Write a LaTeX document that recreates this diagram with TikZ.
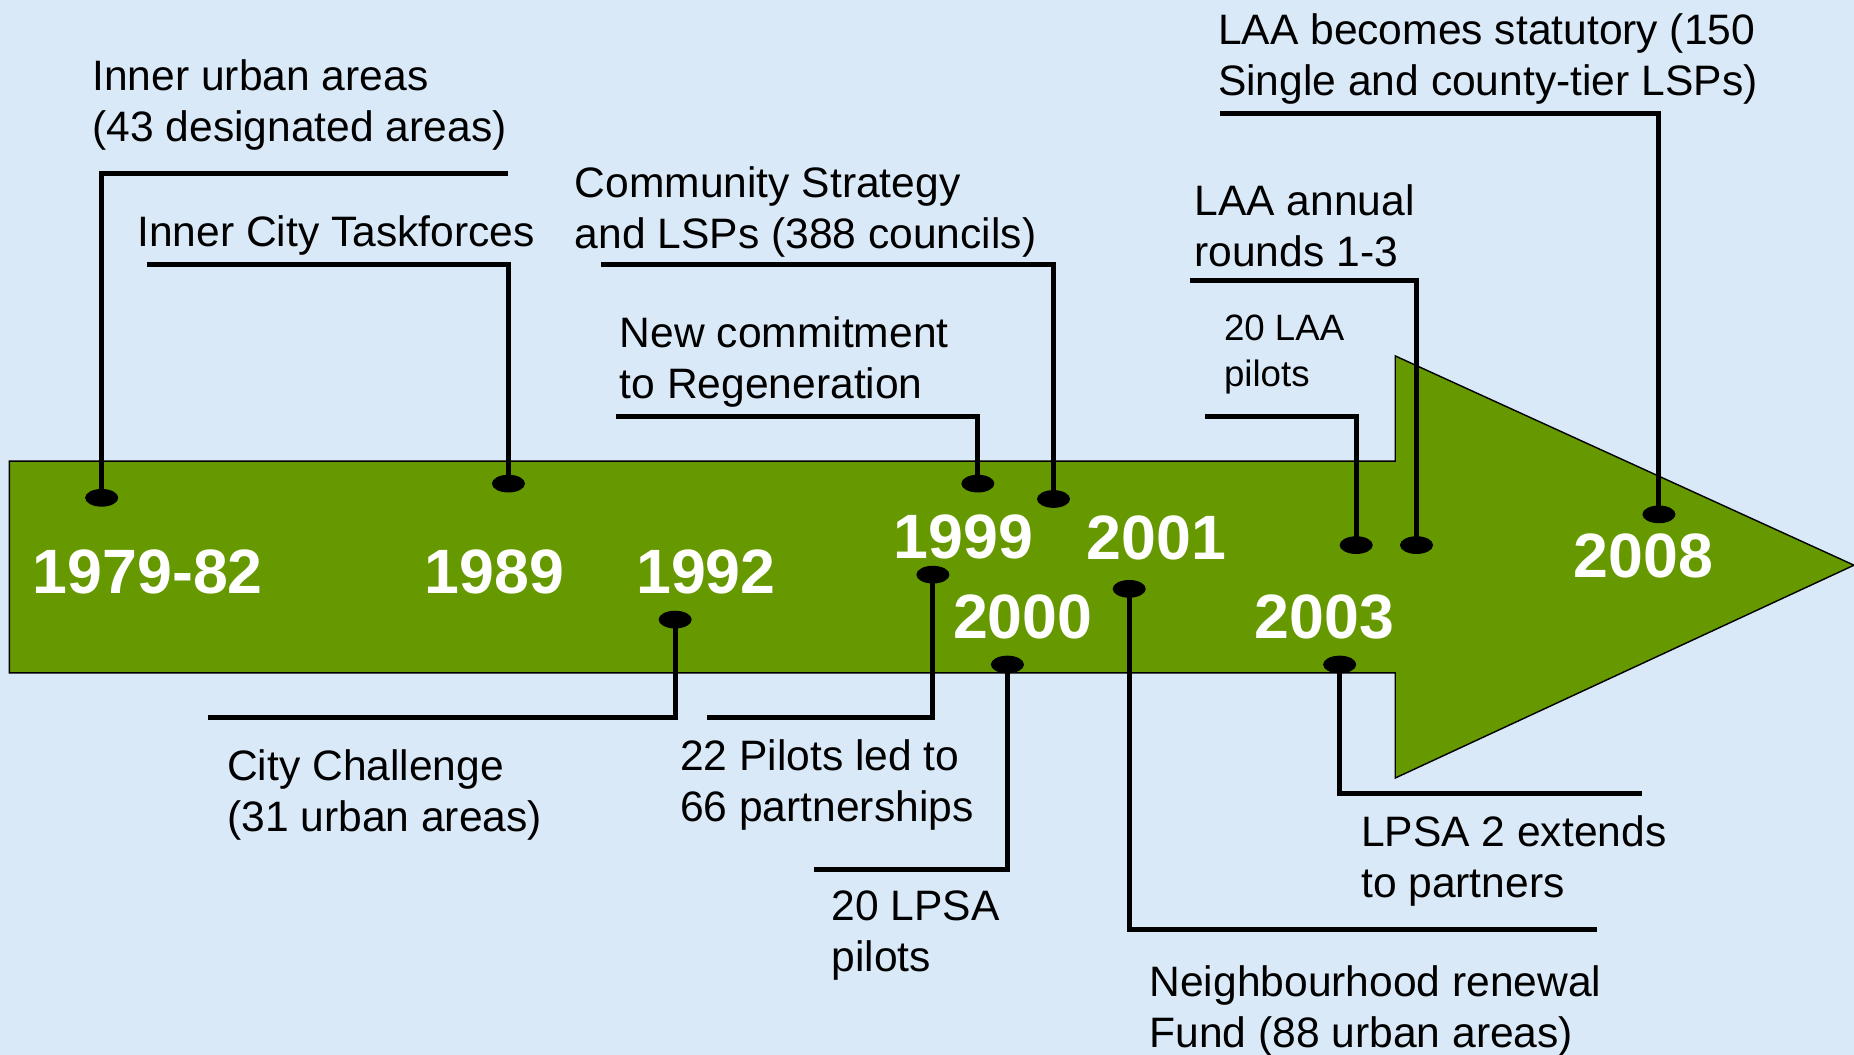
\documentclass[tikz,border=0pt]{standalone}
\usepackage{fontspec}
\setmainfont{Liberation Sans}
\usepackage{tikz}
\usetikzlibrary{shapes.geometric}
\definecolor{arrowgreen}{RGB}{102,153,0}
\definecolor{skyback}{RGB}{218,233,247}

\begin{document}
\begin{tikzpicture}[x=1pt,y=-1pt,
        year/.style={text=white,font=\bfseries\fontsize{53}{60}\selectfont,inner sep=0pt},
        note/.style={anchor=west,align=left,inner sep=0pt,font=\fontsize{36}{43}\selectfont},
        smallnote/.style={note,font=\fontsize{31}{39}\selectfont},
        pin/.style={ellipse,fill=black,minimum width=28pt,minimum height=15pt,inner sep=0pt},
        stem/.style={line width=4.3pt}]
                        \fill[skyback] (0,0) rectangle (1568,892);
                        \useasboundingbox (0,0) rectangle (1568,892);

                        \draw[fill=arrowgreen,line width=1.2pt] (8,390) -- (1180,390) -- (1180,301) -- (1568,478)
                            -- (1180,658) -- (1180,569) -- (8,569) -- cycle;

                        \node[year] (y7982) at (125,484) {1979-82};
                        \node[year] (y1989) at (418,484) {1989};
                        \node[year] (y1992) at (597,484) {1992};
                        \node[year] (y1999) at (815,454) {1999};
                        \node[year] (y2000) at (865,522) {2000};
                        \node[year] (y2001) at (978,455) {2001};
                        \node[year] (y2003) at (1120,522) {2003};
                        \node[year] (y2008) at (1390,470) {2008};

                        \coordinate (eInner) at (430,147);
                        \coordinate (eTask) at (124,224);
                        \coordinate (eCity) at (176,607);
                        \coordinate (eNew) at (521,352);
                        \coordinate (eComm) at (508,224);
                        \coordinate (ePil) at (598,607);
                        \coordinate (eLpsa) at (688,735);
                        \coordinate (eNrf) at (1351,786);
                        \coordinate (eLpsaII) at (1389,671);
                        \coordinate (eLaaPil) at (1019,352);
                        \coordinate (eLaaAnn) at (1006,237);
                        \coordinate (eLaaStat) at (1032,96);

                        \node[pin] (pInner) at (86,421) {};
                        \node[pin] (pTask) at (430,409) {};
                        \node[pin] (pCity) at (571,524) {};
                        \node[pin] (pNew) at (827,409) {};
                        \node[pin] (pComm) at (891,422) {};
                        \node[pin] (pPil) at (789,486) {};
                        \node[pin] (pLpsa) at (852,562) {};
                        \node[pin] (pNrf) at (955,498) {};
                        \node[pin] (pLpsaII) at (1133,562) {};
                        \node[pin] (pLaaPil) at (1147,461) {};
                        \node[pin] (pLaaAnn) at (1198,461) {};
                        \node[pin] (pLaaStat) at (1403,435) {};

                        \draw[stem] (pInner.center) |- (eInner);
                        \draw[stem] (pTask.center) |- (eTask);
                        \draw[stem] (pCity.center) |- (eCity);
                        \draw[stem] (pNew.center) |- (eNew);
                        \draw[stem] (pComm.center) |- (eComm);
                        \draw[stem] (pPil.center) |- (ePil);
                        \draw[stem] (pLpsa.center) |- (eLpsa);
                        \draw[stem] (pNrf.center) |- (eNrf);
                        \draw[stem] (pLpsaII.center) |- (eLpsaII);
                        \draw[stem] (pLaaPil.center) |- (eLaaPil);
                        \draw[stem] (pLaaAnn.center) |- (eLaaAnn);
                        \draw[stem] (pLaaStat.center) |- (eLaaStat);

                        \node[note] (tInner) at (78,89) {Inner urban areas\\(43 designated areas)};
                        \node[note] (tTask) at (116,199) {Inner City Taskforces};
                        \node[note] (tCity) at (192,672) {City Challenge\\(31 urban areas)};
                        \node[note] (tNew) at (524,306) {New commitment\\to Regeneration};
                        \node[note] (tComm) at (486,179) {Community Strategy\\and LSPs (388 councils)};
                        \node[note] (tPil) at (575,664) {22 Pilots led to\\66 partnerships};
                        \node[note] (tLpsa) at (703,791) {20 LPSA\\pilots};
                        \node[note] (tNrf) at (972,855) {Neighbourhood renewal\\Fund (88 urban areas)};
                        \node[note] (tLpsaII) at (1151,728) {LPSA 2 extends\\to partners};
                        \node[smallnote] (tLaaPil) at (1035,300) {20 LAA\\pilots};
                        \node[note] (tLaaAnn) at (1010,191) {LAA annual\\rounds 1-3};
                        \node[note] (tLaaStat) at (1030,50) {LAA becomes statutory (150\\Single and county-tier LSPs)};
                    \end{tikzpicture}
\end{document}
